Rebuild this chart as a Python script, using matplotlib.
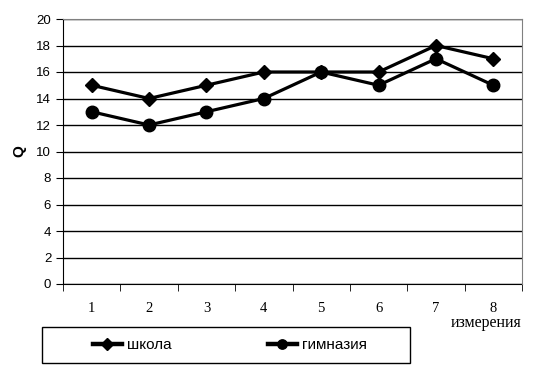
import matplotlib
matplotlib.use("Agg")
import matplotlib.pyplot as plt
from matplotlib.patches import Rectangle
import numpy as np

# data
measurements = [1, 2, 3, 4, 5, 6, 7, 8]
school = [15, 14, 15, 16, 16, 16, 18, 17]
gymnasium = [13, 12, 13, 14, 16, 15, 17, 15]
y_ticks = [0, 2, 4, 6, 8, 10, 12, 14, 16, 18, 20]

fig = plt.figure(figsize=(5.4, 3.68), dpi=100)
ax = fig.add_axes([63/540, 1 - 284/368, 459/540, 265/368])

ax.plot(measurements, school, color="black", lw=2.3, marker="D", ms=7.5, label="школа")
ax.plot(measurements, gymnasium, color="black", lw=2.3, marker="o", ms=9, label="гимназия")

ax.set_xlim(0.5, 8.5)
ax.set_ylim(0, 20)
ax.set_yticks(y_ticks)
ax.yaxis.grid(True, color="black", lw=1)
ax.set_axisbelow(True)

# category axis: tick marks between categories, labels centred
ax.set_xticks(measurements)
ax.set_xticklabels([str(m) for m in measurements], family="Liberation Serif", fontsize=10.5)
ax.set_xticks(np.arange(0.5, 9, 1), minor=True)
ax.tick_params(axis="x", which="major", length=0, pad=13)
ax.tick_params(axis="x", which="minor", direction="out", length=5, color="black")
ax.tick_params(axis="y", direction="out", length=5, color="black", labelsize=9.5)
for lab in ax.get_yticklabels():
    lab.set_family("Liberation Sans")

for side in ["top", "right"]:
    ax.spines[side].set_color("#808080")
    ax.spines[side].set_zorder(3)
for side in ["left", "bottom"]:
    ax.spines[side].set_color("black")

ax.set_ylabel("Q", fontsize=11, fontweight="bold", family="Liberation Sans", labelpad=7)
fig.text(486/540, 1 - 323/368, "измерения", family="Liberation Serif", fontsize=11.5,
         ha="center", va="center")

# legend box
fig.patches.append(Rectangle((42/540, 1 - 363/368), 368/540, 36/368, transform=fig.transFigure,
                             fill=False, edgecolor="black", lw=1))
leg = fig.legend(loc="center", bbox_to_anchor=(230/540, 1 - 345/368), ncol=2, frameon=False,
                 prop={"family": "Liberation Sans", "size": 11}, handlelength=1.9,
                 handletextpad=0.35, columnspacing=6.3, markerscale=0.75)
for h in leg.legend_handles:
    h.set_linewidth(3.2)

fig.savefig("out.png", dpi=100)
